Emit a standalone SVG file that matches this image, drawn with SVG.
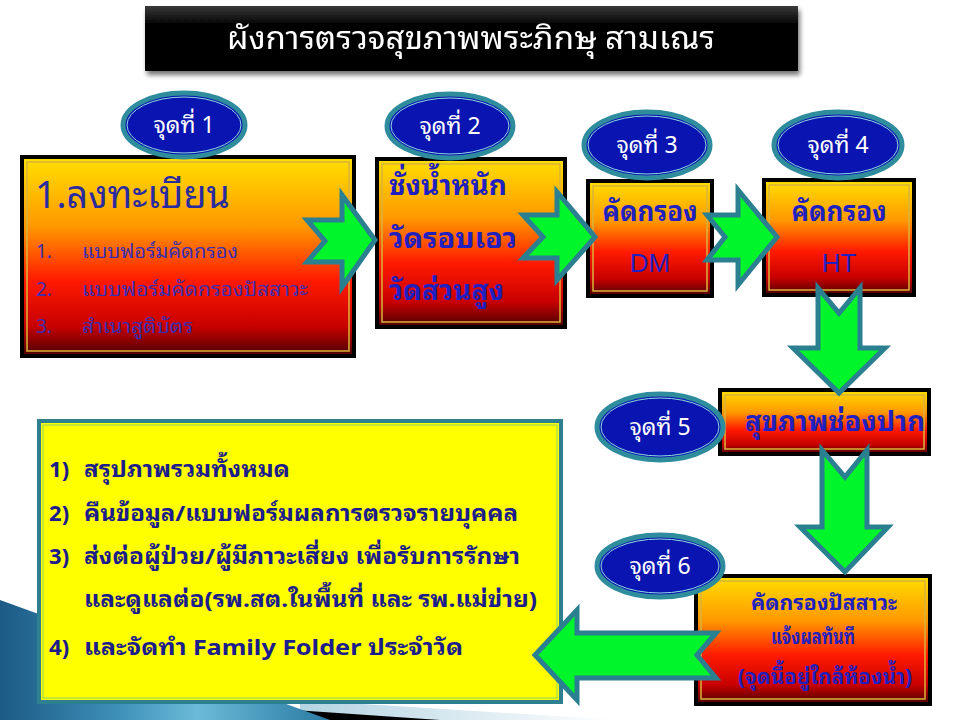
<svg xmlns="http://www.w3.org/2000/svg" width="960" height="720" viewBox="0 0 960 720">
<defs>
  <linearGradient id="boxGrad" x1="0" y1="0" x2="0" y2="1">
    <stop offset="0" stop-color="#ffe000"/>
    <stop offset="0.35" stop-color="#ff9800"/>
    <stop offset="0.62" stop-color="#ff1a00"/>
    <stop offset="0.85" stop-color="#c80000"/>
    <stop offset="1" stop-color="#4a0000"/>
  </linearGradient>
  <linearGradient id="titleGrad" x1="0" y1="0" x2="0" y2="1">
    <stop offset="0" stop-color="#3a3a3a"/>
    <stop offset="0.3" stop-color="#000"/>
    <stop offset="1" stop-color="#000"/>
  </linearGradient>
  <linearGradient id="blueGrad" x1="0" y1="0" x2="1" y2="0">
    <stop offset="0" stop-color="#1b5a85"/>
    <stop offset="0.35" stop-color="#3d8fb8"/>
    <stop offset="0.6" stop-color="#6bbad8"/>
    <stop offset="1" stop-color="#2a7aa2"/>
  </linearGradient>
  <linearGradient id="lightGrad" x1="0" y1="0" x2="1" y2="0">
    <stop offset="0" stop-color="#b4d4e2"/>
    <stop offset="1" stop-color="#ffffff"/>
  </linearGradient>
  <filter id="shadow" x="-10%" y="-20%" width="120%" height="150%">
    <feGaussianBlur in="SourceAlpha" stdDeviation="2.5"/>
    <feOffset dx="2" dy="4" result="b"/>
    <feComponentTransfer><feFuncA type="linear" slope="0.55"/></feComponentTransfer>
    <feMerge><feMergeNode/><feMergeNode in="SourceGraphic"/></feMerge>
  </filter>
  <style>
    .th { font-family: "Noto Sans Thai Looped", Tahoma, "Noto Sans Thai", "Noto Sans", "DejaVu Sans", sans-serif; }
    .box { fill: url(#boxGrad); stroke: #000; stroke-width: 4; }
    .inner { fill: none; stroke: #d9b43a; stroke-width: 1.5; }
    .oval { fill: #0a14b0; stroke: #2e8c9c; stroke-width: 5; }
    .ovalIn { fill: none; stroke: #8fd8e0; stroke-width: 1; }
    .otxt { fill: #ffffff; font-size: 23px; text-anchor: middle; }
    .arrow { fill: #00f52a; stroke: #2a8090; stroke-width: 5; stroke-linejoin: miter; }
    .btxt { fill: #2020c0; font-weight: bold; }
    .ytxt { fill: #1c1c8c; font-weight: bold; font-size: 22px; }
    .ltxt { fill: #3a2fb0; font-size: 19px; }
  </style>
</defs>

<rect x="0" y="0" width="960" height="720" fill="#ffffff"/>

<!-- decoration bottom-left -->
<g id="decoration">
  <polygon points="300,700 620,720 300,720" fill="url(#lightGrad)"/>
  <polygon points="250,707 440,720 250,720" fill="#000"/>
  <polygon points="0,600 330,720 0,720" fill="url(#blueGrad)"/>
</g>

<!-- title -->
<g id="title" filter="url(#shadow)">
  <rect x="145" y="6" width="653" height="65" fill="url(#titleGrad)"/>
  <text class="th" x="471" y="49" font-size="32" fill="#fff" text-anchor="middle" textLength="488" lengthAdjust="spacingAndGlyphs">ผังการตรวจสุขภาพพระภิกษุ  สามเณร</text>
</g>

<!-- boxes -->
<g id="step1">
  <rect class="box" x="22" y="157" width="332" height="199"/>
  <rect class="inner" x="27" y="162" width="322" height="189"/>
  <text class="th" x="35" y="208" font-size="39" fill="#2b2ba0" textLength="195" lengthAdjust="spacingAndGlyphs">1.ลงทะเบียน</text>
  <text class="th ltxt" x="36" y="258">1.</text>
  <text class="th ltxt" x="82" y="258" textLength="156" lengthAdjust="spacingAndGlyphs">แบบฟอร์มคัดกรอง</text>
  <text class="th ltxt" x="36" y="296">2.</text>
  <text class="th ltxt" x="82" y="296" textLength="226" lengthAdjust="spacingAndGlyphs">แบบฟอร์มคัดกรองปัสสาวะ</text>
  <text class="th ltxt" x="36" y="333">3.</text>
  <text class="th ltxt" x="82" y="333" textLength="111" lengthAdjust="spacingAndGlyphs">สำเนาสูติบัตร</text>
</g>

<g id="step2">
  <rect class="box" x="377" y="159" width="188" height="168"/>
  <rect class="inner" x="382" y="164" width="178" height="158"/>
  <text class="th btxt" x="389" y="195" font-size="28" textLength="118" lengthAdjust="spacingAndGlyphs">ชั่งน้ำหนัก</text>
  <text class="th btxt" x="389" y="248" font-size="28" textLength="128" lengthAdjust="spacingAndGlyphs">วัดรอบเอว</text>
  <text class="th btxt" x="389" y="300" font-size="28" textLength="115" lengthAdjust="spacingAndGlyphs">วัดส่วนสูง</text>
</g>

<g id="step3">
  <rect class="box" x="588" y="181" width="124" height="115"/>
  <rect class="inner" x="593" y="186" width="114" height="105"/>
  <text class="th btxt" x="650" y="221" font-size="27" text-anchor="middle" textLength="95" lengthAdjust="spacingAndGlyphs">คัดกรอง</text>
  <text x="650" y="272" font-size="26" fill="#2020c0" font-family="'Liberation Sans', Arial, sans-serif" text-anchor="middle">DM</text>
</g>

<g id="step4">
  <rect class="box" x="764" y="180" width="150" height="115"/>
  <rect class="inner" x="769" y="185" width="140" height="105"/>
  <text class="th btxt" x="839" y="221" font-size="27" text-anchor="middle" textLength="95" lengthAdjust="spacingAndGlyphs">คัดกรอง</text>
  <text x="839" y="272" font-size="26" fill="#2020c0" font-family="'Liberation Sans', Arial, sans-serif" text-anchor="middle">HT</text>
</g>

<g id="step5">
  <rect class="box" x="720" y="390" width="209" height="64"/>
  <rect class="inner" x="725" y="395" width="199" height="54"/>
  <text class="th btxt" x="835" y="431" font-size="28" text-anchor="middle" textLength="180" lengthAdjust="spacingAndGlyphs">สุขภาพช่องปาก</text>
</g>

<g id="step6">
  <rect class="box" x="696" y="576" width="234" height="128"/>
  <rect class="inner" x="701" y="581" width="224" height="118"/>
  <text class="th btxt" x="824" y="610" font-size="21" text-anchor="middle" textLength="146" lengthAdjust="spacingAndGlyphs">คัดกรองปัสสาวะ</text>
  <text class="th btxt" x="813" y="644" font-size="21" text-anchor="middle" textLength="84" lengthAdjust="spacingAndGlyphs">แจ้งผลทันที</text>
  <text class="th btxt" x="825" y="684" font-size="21" text-anchor="middle" textLength="174" lengthAdjust="spacingAndGlyphs">(จุดนี้อยู่ใกล้ห้องน้ำ)</text>
</g>

<g id="summary">
  <rect x="39" y="421" width="522" height="281" fill="#ffff00" stroke="#2e8090" stroke-width="4"/>
  <rect x="43" y="425" width="514" height="273" fill="none" stroke="#8fcf6a" stroke-width="1"/>
  <text class="th ytxt" x="49" y="477">1)</text>
  <text class="th ytxt" x="84" y="477" textLength="206" lengthAdjust="spacingAndGlyphs">สรุปภาพรวมทั้งหมด</text>
  <text class="th ytxt" x="49" y="521">2)</text>
  <text class="th ytxt" x="84" y="521" textLength="434" lengthAdjust="spacingAndGlyphs">คืนข้อมูล/แบบฟอร์มผลการตรวจรายบุคคล</text>
  <text class="th ytxt" x="49" y="564">3)</text>
  <text class="th ytxt" x="84" y="564" textLength="436" lengthAdjust="spacingAndGlyphs">ส่งต่อผู้ป่วย/ผู้มีภาวะเสี่ยง เพื่อรับการรักษา</text>
  <text class="th ytxt" x="84" y="607" textLength="453" lengthAdjust="spacingAndGlyphs">และดูแลต่อ(รพ.สต.ในพื้นที่ และ รพ.แม่ข่าย)</text>
  <text class="th ytxt" x="49" y="655">4)</text>
  <text class="th ytxt" x="84" y="655" textLength="379" lengthAdjust="spacingAndGlyphs">และจัดทำ Family Folder ประจำวัด</text>
</g>

<!-- connectors -->
<g id="connectors">
  <polygon class="arrow" points="307,220 342,220 342,195 375,240 342,287 342,262 307,262 325,241"/>
  <polygon class="arrow" points="523,215 557,215 557,192 595,237 557,280 557,258 523,258 543,237"/>
  <polygon class="arrow" points="707,215 738,215 738,190 777,237 738,285 738,260 707,260 725,237"/>
  <polygon class="arrow" points="818,288 839,313 860,288 860,348 885,348 839,393 793,348 818,348"/>
  <polygon class="arrow" points="822,450 845,477 867,450 867,527 888,527 845,572 800,527 822,527"/>
  <polygon class="arrow" points="716,633 697,655 716,678 577,678 577,700 535,655 577,610 577,633"/>
</g>

<!-- station ovals -->
<g id="point1">
  <ellipse class="oval" cx="184" cy="125" rx="61" ry="32"/>
  <ellipse class="ovalIn" cx="184" cy="125" rx="57" ry="28"/>
  <text class="th otxt" x="184" y="133">จุดที่ 1</text>
</g>
<g id="point2">
  <ellipse class="oval" cx="450" cy="126" rx="63" ry="32"/>
  <ellipse class="ovalIn" cx="450" cy="126" rx="59" ry="28"/>
  <text class="th otxt" x="450" y="134">จุดที่ 2</text>
</g>
<g id="point3">
  <ellipse class="oval" cx="647" cy="145" rx="63" ry="33"/>
  <ellipse class="ovalIn" cx="647" cy="145" rx="59" ry="29"/>
  <text class="th otxt" x="647" y="153">จุดที่ 3</text>
</g>
<g id="point4">
  <ellipse class="oval" cx="838" cy="145" rx="64" ry="33"/>
  <ellipse class="ovalIn" cx="838" cy="145" rx="60" ry="29"/>
  <text class="th otxt" x="838" y="153">จุดที่ 4</text>
</g>
<g id="point5">
  <ellipse class="oval" cx="660" cy="427" rx="63" ry="33"/>
  <ellipse class="ovalIn" cx="660" cy="427" rx="59" ry="29"/>
  <text class="th otxt" x="660" y="435">จุดที่ 5</text>
</g>
<g id="point6">
  <ellipse class="oval" cx="660" cy="566" rx="63" ry="31"/>
  <ellipse class="ovalIn" cx="660" cy="566" rx="59" ry="27"/>
  <text class="th otxt" x="660" y="574">จุดที่ 6</text>
</g>
</svg>
